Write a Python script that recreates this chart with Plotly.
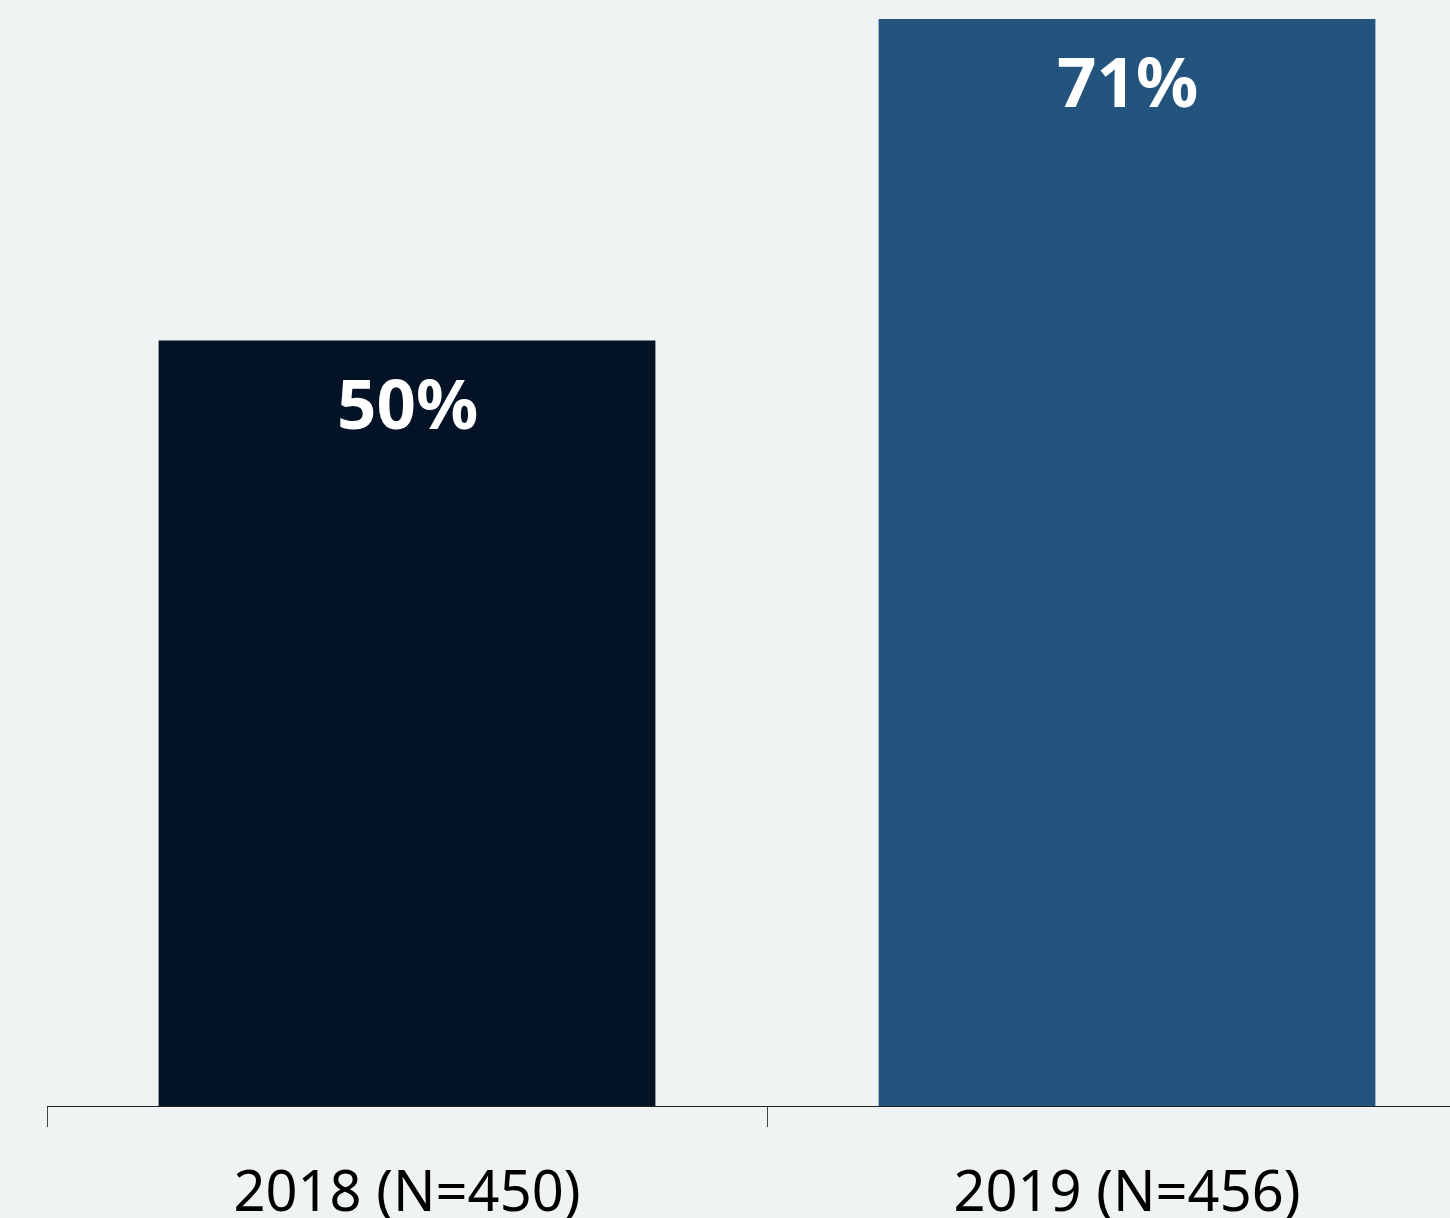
import plotly.graph_objects as go

categories = ["2018 (N=450)", "2019 (N=456)"]
values = [50, 71]
labels = ["50%", "71%"]
colors = ["#041325", "#23547E"]

fig = go.Figure()
fig.add_trace(go.Bar(
    x=categories, y=values, marker=dict(color=colors, line=dict(width=0)),
    width=0.69, hoverinfo="skip", showlegend=False,
))

for c, v, t in zip(categories, values, labels):
    fig.add_annotation(x=c, y=v, text=f"<b>{t}</b>", showarrow=False,
                       yanchor="top", yshift=-12,
                       font=dict(family="Noto Sans", size=69, color="white"))

bg = "#EFF3F4"
fig.update_layout(
    width=1450, height=1218,
    margin=dict(l=47, r=0, t=0, b=112, autoexpand=False),
    paper_bgcolor=bg, plot_bgcolor=bg,
    xaxis=dict(range=[-0.5, 1.4486], showline=True, linecolor="#222222", linewidth=1,
               ticks="outside", tickson="boundaries", ticklen=20, tickcolor="#444444",
               tickfont=dict(family="Noto Sans", size=56, color="black"),
               showgrid=False, zeroline=False, ticklabelstandoff=37, automargin=False),
    yaxis=dict(range=[0, 72.24], visible=False, showgrid=False, zeroline=False,
               automargin=False),
)
fig.write_html("out.html", config={"displayModeBar": False},
               post_script="document.body.style.margin='0';document.body.style.overflow='hidden';document.body.style.background='#EFF3F4';")
